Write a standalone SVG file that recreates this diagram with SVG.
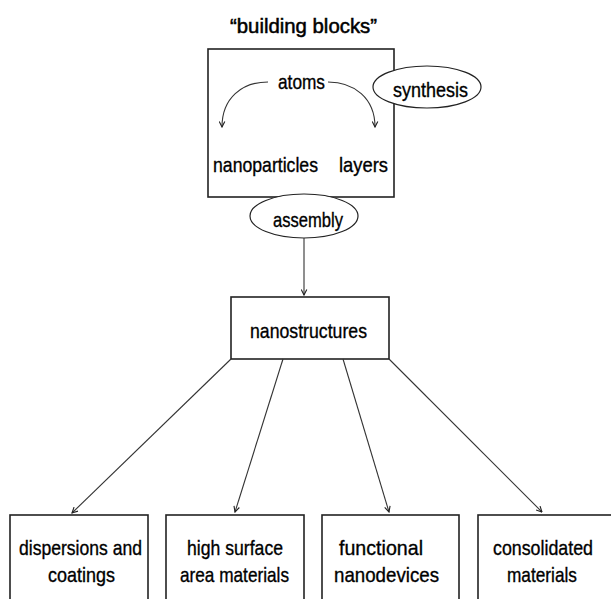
<svg xmlns="http://www.w3.org/2000/svg" width="611" height="599" viewBox="0 0 611 599">
<style>
text{font-family:"Liberation Sans",Arial,sans-serif;font-size:21px;fill:#000;stroke:#000;stroke-width:0.35;}
.box{fill:#fff;stroke:#222;stroke-width:1.6;}
.ell{fill:#fff;stroke:#222;stroke-width:1.2;}
.con{fill:none;stroke:#333;stroke-width:1.1;}
</style>
<defs>
<marker id="ah" viewBox="0 0 10 10" refX="9" refY="5" markerWidth="7" markerHeight="7" orient="auto" markerUnits="userSpaceOnUse">
<path d="M1,1 L9,5 L1,9" fill="none" stroke="#222" stroke-width="1.6"/>
</marker>
</defs>
<g id="title"><text x="230" y="33" textLength="147" lengthAdjust="spacingAndGlyphs" style="font-size:20px;stroke-width:0.5">“building blocks”</text></g>
<g id="building-blocks">
<rect class="box" x="208" y="49" width="186" height="148"/>
</g>
<g id="atoms"><text x="278" y="89" textLength="47" lengthAdjust="spacingAndGlyphs">atoms</text></g>
<g id="nanoparticles"><text x="213" y="172" textLength="105" lengthAdjust="spacingAndGlyphs">nanoparticles</text></g>
<g id="layers"><text x="339" y="172" textLength="49" lengthAdjust="spacingAndGlyphs">layers</text></g>
<g id="synthesis">
<ellipse class="ell" cx="427" cy="87" rx="54" ry="21"/>
<text x="393" y="97" textLength="75" lengthAdjust="spacingAndGlyphs">synthesis</text>
</g>
<g id="assembly">
<ellipse class="ell" cx="304" cy="216" rx="54" ry="22"/>
<text x="273" y="227" textLength="70" lengthAdjust="spacingAndGlyphs">assembly</text>
</g>
<g id="nanostructures">
<rect class="box" x="231" y="297" width="158" height="62"/>
<text x="250" y="338" textLength="117" lengthAdjust="spacingAndGlyphs">nanostructures</text>
</g>
<g id="dispersions">
<rect class="box" x="10" y="515" width="138" height="90"/>
<text x="19" y="555" textLength="123" lengthAdjust="spacingAndGlyphs">dispersions and</text>
<text x="48" y="582" textLength="67" lengthAdjust="spacingAndGlyphs">coatings</text>
</g>
<g id="high-surface">
<rect class="box" x="166" y="515" width="138" height="90"/>
<text x="187" y="555" textLength="96" lengthAdjust="spacingAndGlyphs">high surface</text>
<text x="180" y="582" textLength="109" lengthAdjust="spacingAndGlyphs">area materials</text>
</g>
<g id="functional">
<rect class="box" x="322" y="515" width="137" height="90"/>
<text x="339" y="555" textLength="84" lengthAdjust="spacingAndGlyphs">functional</text>
<text x="334" y="582" textLength="105" lengthAdjust="spacingAndGlyphs">nanodevices</text>
</g>
<g id="consolidated">
<rect class="box" x="478" y="515" width="140" height="90"/>
<text x="493" y="555" textLength="100" lengthAdjust="spacingAndGlyphs">consolidated</text>
<text x="507" y="582" textLength="70" lengthAdjust="spacingAndGlyphs">materials</text>
</g>
<g id="connectors">
<path class="con" d="M268,82 C242,82 222,98 222,127" marker-end="url(#ah)"/>
<path class="con" d="M328,82 C354,82 375,98 375,127" marker-end="url(#ah)"/>
<path class="con" d="M304,238 L304,295" marker-end="url(#ah)"/>
<path class="con" d="M231,359 L72,513" marker-end="url(#ah)"/>
<path class="con" d="M283,359 L235,512" marker-end="url(#ah)"/>
<path class="con" d="M343,359 L389,512" marker-end="url(#ah)"/>
<path class="con" d="M389,359 L542,512" marker-end="url(#ah)"/>
</g>
</svg>
